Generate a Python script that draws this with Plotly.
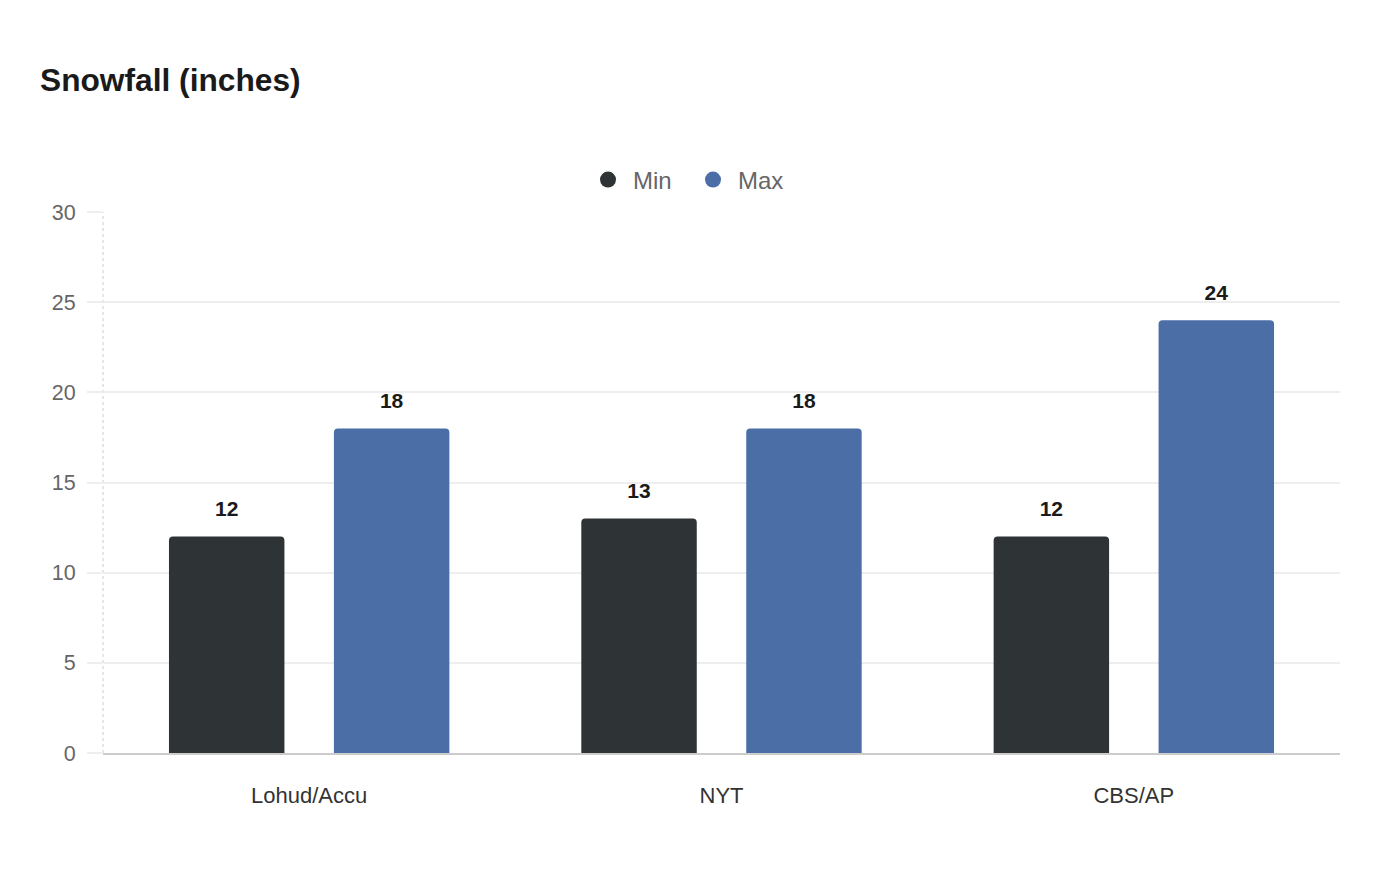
import plotly.graph_objects as go

categories = ["Lohud/Accu", "NYT", "CBS/AP"]
min_values = [12, 13, 12]
max_values = [18, 18, 24]
series_names = ["Min", "Max"]
y_ticks = [0, 5, 10, 15, 20, 25, 30]

colors = {"Min": "#2e3436", "Max": "#4a6ea5"}
# the page body adds an 8px margin, so the figure is 8px smaller on each side
W, H = 1392, 872
FONT = "Liberation Sans, Arial, sans-serif"

fig = go.Figure()
for name, vals in zip(series_names, [min_values, max_values]):
    fig.add_trace(go.Bar(
        x=categories, y=vals, name=name, showlegend=False, offsetgroup=name,
        marker=dict(color=colors[name], line=dict(width=0)),
        hoverinfo="x+y",
    ))
# value labels, aligned with the grouped bars
for name, vals in zip(series_names, [min_values, max_values]):
    fig.add_trace(go.Scatter(
        x=categories, y=vals, offsetgroup=name, mode="markers+text",
        text=[f"<b>{v}</b>" for v in vals], textposition="top center",
        textfont=dict(family=FONT, size=21, color="#1a1a1a"),
        marker=dict(size=23, opacity=0, color=colors[name]),
        showlegend=False, hoverinfo="skip", cliponaxis=False,
    ))
for name in series_names:
    fig.add_trace(go.Scatter(
        x=[None], y=[None], mode="markers", name=name,
        marker=dict(symbol="circle", size=34, color=colors[name]),
    ))

fig.update_layout(
    width=W, height=H,
    paper_bgcolor="white", plot_bgcolor="white",
    font=dict(family=FONT),
    margin=dict(l=95, r=60, t=204, b=127, autoexpand=False),
    barmode="group", bargap=0.2, bargroupgap=0.3, barcornerradius=4,
    scattermode="group", scattergap=0.2,
    title=dict(text="<b>Snowfall (inches)</b>", x=32 / W, xref="container", xanchor="left",
               y=1 - 72 / H, yref="container", yanchor="middle",
               font=dict(family=FONT, size=31.7, color="#1a1a1a")),
    legend=dict(orientation="h", x=680 / W, xref="container", xanchor="center",
                y=1 - 172 / H, yref="container", yanchor="middle",
                itemwidth=40, entrywidth=50,
                font=dict(family=FONT, size=24, color="#666666")),
    xaxis=dict(showgrid=False, ticks="", ticklabelstandoff=22,
               tickfont=dict(family=FONT, size=22, color="#333333"),
               showline=True, linecolor="#cccccc", linewidth=2),
    yaxis=dict(range=[0, 30], tickvals=y_ticks, showgrid=True, gridcolor="#eeeeee",
               gridwidth=1.5, ticks="outside", ticklen=15, tickcolor="#eeeeee",
               tickwidth=1.5, ticklabelstandoff=7,
               tickfont=dict(family=FONT, size=21.5, color="#666666"),
               zeroline=False, showline=False),
    shapes=[dict(type="line", xref="paper", yref="paper", x0=0, x1=0, y0=0, y1=1,
                 line=dict(color="#cccccc", width=1, dash="dot"), layer="below")],
)
fig.write_html("out.html")
